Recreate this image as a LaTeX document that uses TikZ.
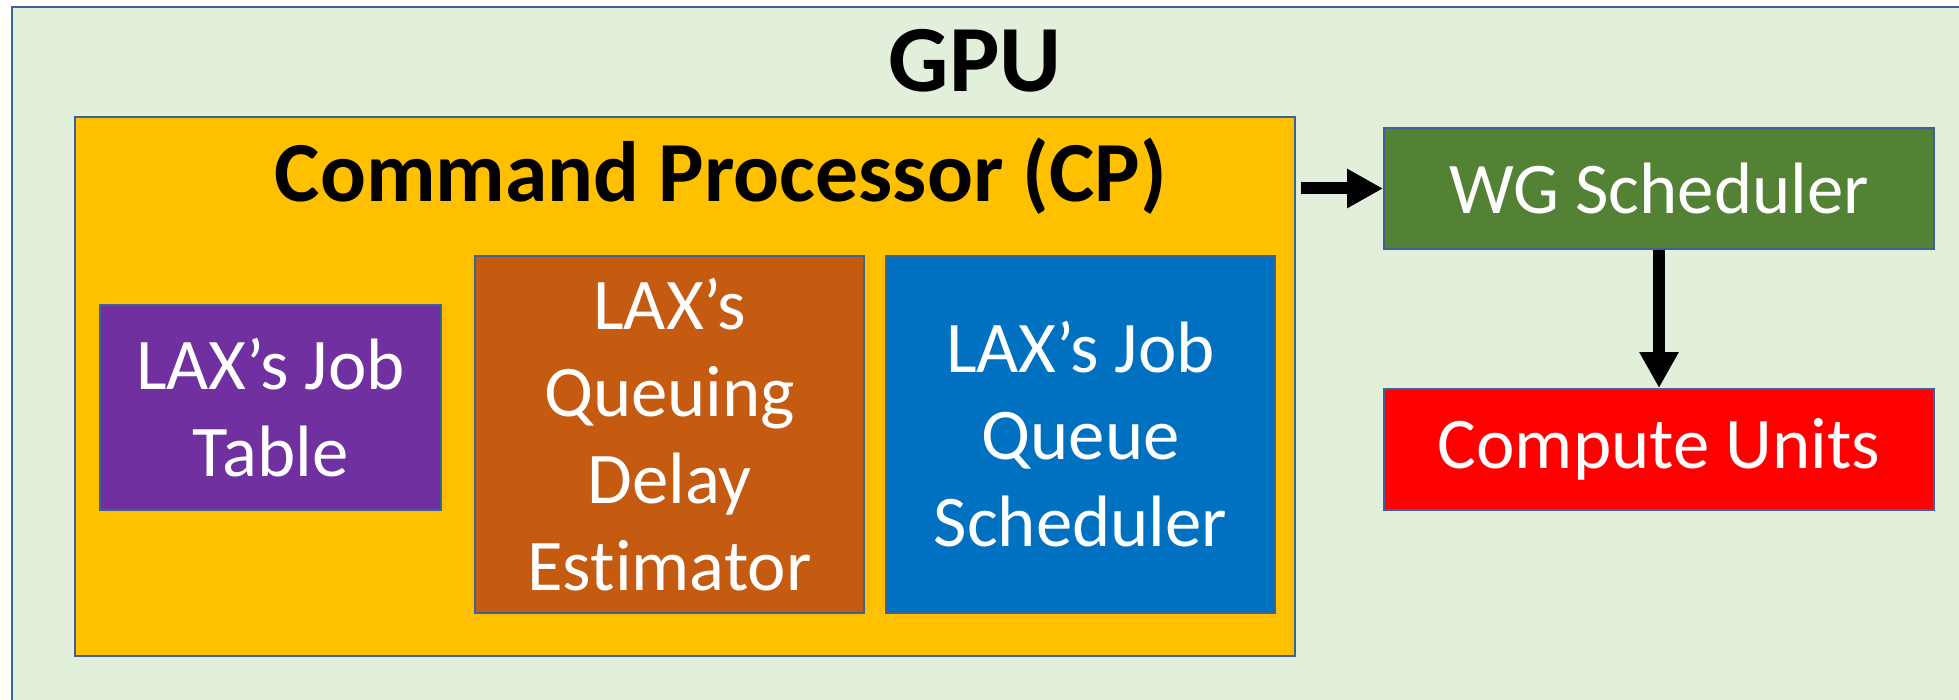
\documentclass[tikz,border=0pt]{standalone}
\usepackage{fontspec}
\setmainfont{Carlito}[Ligatures=NoCommon]
\usetikzlibrary{arrows.meta,calc}
\definecolor{gpufill}{HTML}{E2EFDA}
\definecolor{edge}{HTML}{3C6299}
\definecolor{cpfill}{HTML}{FFC000}
\definecolor{tablefill}{HTML}{7030A0}
\definecolor{delayfill}{HTML}{C55A11}
\definecolor{queuefill}{HTML}{0070C0}
\definecolor{wgfill}{HTML}{548235}
\definecolor{cufill}{HTML}{FF0000}
\begin{document}
\begin{tikzpicture}[x=0.5pt,y=-0.5pt,
  frame/.style={draw=edge, line width=1pt, inner sep=0pt},
  unitbox/.style={frame, align=center, text=white,
    font=\fontsize{36.4}{43.5}\selectfont},
  title/.style={inner sep=0pt, anchor=base, font=\bfseries},
  link/.style={line width=6pt, -{Triangle[length=18pt,width=18.5pt]}}]
\useasboundingbox (0,0) rectangle (1959,700);

% GPU enclosure (runs off the right and bottom edges)
\node[frame, fill=gpufill, anchor=north west,
      minimum width=1010pt, minimum height=360pt] (gpu) at (11,6) {};
\node[title, font=\bfseries\fontsize{47.4}{56}\selectfont] (gpulabel) at (975,92) {GPU};

% Command processor and its units
\node[frame, fill=cpfill, minimum width=610pt, minimum height=269.5pt] (cp) at (685,386.5) {};
\node[title, font=\bfseries\fontsize{42.8}{51}\selectfont] (cplabel) at (721,202) {Command Processor (CP)};

\node[unitbox, fill=tablefill, minimum width=170.5pt, minimum height=102.5pt] (table) at (270.5,407.5)
  {LAX’s Job\\Table};
\node[unitbox, fill=delayfill, minimum width=194.5pt, minimum height=178.5pt] (delay) at (669.5,434.5)
  {LAX’s\\Queuing\\Delay\\Estimator};
\node[unitbox, fill=queuefill, minimum width=194.5pt, minimum height=178.5pt] (jqs) at (1080.5,434.5)
  {LAX’s Job\\Queue\\Scheduler};

% Downstream hardware
\node[unitbox, fill=wgfill, minimum width=275pt, minimum height=60.5pt] (wg) at (1659,188.5) {WG Scheduler};
\node[unitbox, fill=cufill, minimum width=275pt, minimum height=60.5pt] (cu) at (1659,449.5) {Compute Units};

% Connectors
\coordinate (cpout) at ($(cp.east |- wg.west)+(2.5pt,0)$);
\draw[link] (cpout) -- (wg.west);
\draw[link] (wg.south) -- (cu.north);
\end{tikzpicture}
\end{document}
